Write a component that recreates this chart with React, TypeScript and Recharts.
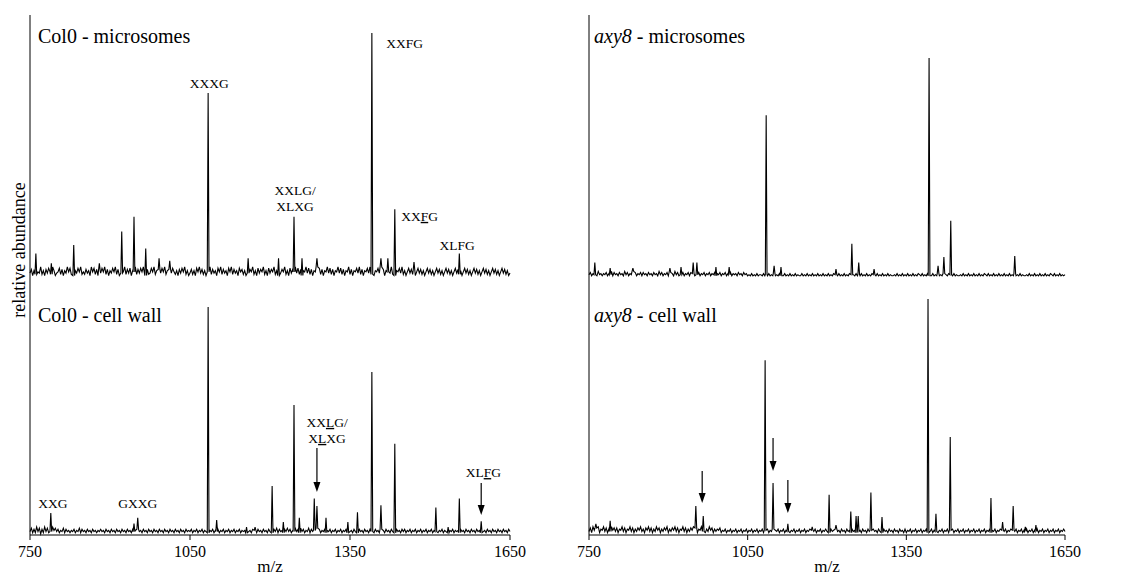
import { LineChart, Line, XAxis, YAxis, ReferenceDot, ReferenceLine } from "recharts"

const SERIF = '"Liberation Serif", "Times New Roman", serif'

// m/z grid of the baseline noise traces
const MZ_START = 750
const MZ_STEP = 2.5
const NOISE_UNIT = 0.5
const MZ_TICKS = [750, 1050, 1350, 1650]

// baseline noise, one digit every 2.5 m/z from 750 to 1650 (units of 0.5 %), 100 m/z per row
const col0MicroNoise = [
  "4726385493627485396245837264958372648593",
  "5374629583726485937264859372645937482659",
  "3748596273485936274859362748536274859362",
  "4736285947362859374628593746285937462857",
  "3628475936284759362847593628475936284759",
  "4837265948372659483726594837265948372659",
  "3726584937265849372658493726584937265849",
  "3625847362584736258473625847362584736258",
  "4736258473625847362584736258473625847362",
  "4",
].join("")
const axy8MicroNoise = [
  "3524352634243524362534253426352436352435",
  "2534253425342635243525342635243524352534",
  "2435243524352435243524352435243425342534",
  "2324232423324232423242324232423242324232",
  "2423242324232423242324232423242324232423",
  "3242324232423242324232423242322324232423",
  "2423242324324232423242324232423242324232",
  "2324232423242324232432423242324232423242",
  "3242324232232423242324232423243242324232",
  "3",
].join("")
const col0WallNoise = [
  "3625273615273625374635243625342435243625",
  "3425342534243534253425342534253425342534",
  "2534253425342534253425342534253425342534",
  "3524352435243524352435243524352435243524",
  "3425342534253425342534253625342536352436",
  "3526352436253426352435243524352435243524",
  "3425342534253425342534253425342534253425",
  "3524352435243524352435243524352435243524",
  "3425342534253425342534253425342534253425",
  "3",
].join("")
const axy8WallNoise = [
  "3627463725473625374636254736254736253647",
  "3526473625374625364725364736254736253647",
  "3625473625374625354624352435243524352435",
  "2435243524352435243524352435243524352435",
  "2435243524352435243534253425342534253425",
  "3425342534253425342534253425342534253425",
  "2435243524352435243524352435243524352435",
  "2435243524352435243524352435243524352435",
  "2435243524352435243524352435243524352435",
  "3",
].join("")

// peaks: [m/z, relative abundance %]
const col0MicroPeaks: [number, number][] = [
  [761, 10], [790, 6], [832, 13.5], [880, 6], [922, 19], [945, 25], [967, 12],
  [992, 8], [1012, 7], [1084, 75.5], [1159, 8], [1216, 8], [1245, 25], [1260, 8],
  [1288, 8], [1391, 100], [1408, 8], [1421, 8], [1434, 28], [1470, 6.5], [1555, 10],
]
const axy8MicroPeaks: [number, number][] = [
  [761, 7], [790, 4.5], [833, 4.5], [903, 4.5], [924, 5], [947, 7], [954, 7],
  [990, 5], [1015, 5], [1085, 74], [1100, 5.5], [1113, 5], [1217, 4], [1247, 15.5],
  [1260, 7], [1289, 4], [1393, 100], [1410, 5.5], [1421, 9.5], [1434, 26], [1555, 10],
]
const col0WallPeaks: [number, number][] = [
  [789, 9.6], [945, 5], [952, 7.5], [1084, 100], [1100, 6.6], [1156, 3.5], [1172, 3.5],
  [1204, 21.5], [1225, 5.7], [1245, 57], [1255, 7.5], [1283, 16], [1288, 12.7],
  [1305, 7.5], [1346, 5.7], [1364, 10], [1391, 71.5], [1408, 13], [1434, 40],
  [1511, 12], [1534, 3.5], [1555, 16], [1596, 6],
]
const axy8WallPeaks: [number, number][] = [
  [763, 4.7], [790, 6], [952, 12.3], [966, 8], [1083, 74], [1098, 22], [1126, 4.7],
  [1172, 3.4], [1204, 17], [1217, 4.2], [1245, 10], [1255, 8], [1259, 8], [1283, 18],
  [1304, 7.6], [1391, 100], [1406, 9], [1433, 41.5], [1510, 15.7], [1532, 5.5],
  [1552, 12.3], [1575, 3.4], [1595, 4.2],
]

// peak annotations ([x] = underlined letter)
type PeakLabel = { mz: number; v: number; lines: string[]; anchor?: "start" | "middle" }
type Arrow = { mz: number; from: number; to: number }

const col0MicroLabels: PeakLabel[] = [
  { mz: 1086, v: 77.5, lines: ["XXXG"] },
  { mz: 1418, v: 93.9, lines: ["XXFG"], anchor: "start" },
  { mz: 1247, v: 33.9, lines: ["XXLG/", "XLXG"] },
  { mz: 1446, v: 23.3, lines: ["XX[F]G"], anchor: "start" },
  { mz: 1551, v: 11.4, lines: ["XLFG"] },
]
const col0WallLabels: PeakLabel[] = [
  { mz: 793, v: 11.8, lines: ["XXG"] },
  { mz: 952, v: 11.8, lines: ["GXXG"] },
  { mz: 1307, v: 47.4, lines: ["XX[L]G/", "X[L]XG"] },
  { mz: 1600, v: 25.4, lines: ["XL[F]G"] },
]
const col0WallArrows: Arrow[] = [
  { mz: 1288, from: 38.2, to: 18.9 },
  { mz: 1596, from: 22.8, to: 8.8 },
]
const axy8WallArrows: Arrow[] = [
  { mz: 964, from: 27.1, to: 13.6 },
  { mz: 1098, from: 41.1, to: 27.1 },
  { mz: 1126, from: 23.3, to: 9.3 },
]

function buildSpectrum(noiseDigits: string, peaks: [number, number][]) {
  const noise = Array.from(noiseDigits, Number)
  const pts = noise
    .map((n, i) => ({ mz: MZ_START + i * MZ_STEP, v: n * NOISE_UNIT }))
    .filter((p) => !peaks.some(([mz]) => Math.abs(mz - p.mz) < 2.5))
  peaks.forEach(([mz, h]) => {
    const base = noise[Math.round((mz - MZ_START) / MZ_STEP)] * NOISE_UNIT
    pts.push({ mz: mz - 1.6, v: base }, { mz, v: h }, { mz: mz + 1.6, v: base })
  })
  return pts.sort((a, b) => a.mz - b.mz)
}

function labelShape(lines: string[], anchor: "start" | "middle") {
  return (p: any) => (
    <text x={p.cx} y={p.cy} textAnchor={anchor} fontFamily={SERIF} fontSize={13.5} fill="#000">
      {lines.map((ln, i) => (
        <tspan key={i} x={p.cx} dy={i === 0 ? 0 : 16}>
          {ln.split(/(\[.\])/).filter(Boolean).map((s, j) =>
            s.startsWith("[") ? (
              <tspan key={j} style={{ textDecoration: "underline" }}>{s.slice(1, -1)}</tspan>
            ) : (
              <tspan key={j}>{s}</tspan>
            )
          )}
        </tspan>
      ))}
    </text>
  )
}

const arrowShape = (p: any) => {
  const { x1, y1, x2, y2 } = p
  return (
    <g>
      <line x1={x1} y1={y1} x2={x2} y2={y2 - 9} stroke="#000" strokeWidth={1.2} />
      <polygon points={`${x2 - 3.5},${y2 - 10} ${x2 + 3.5},${y2 - 10} ${x2},${y2}`} fill="#000" />
    </g>
  )
}

interface PanelProps {
  noise: string
  peaks: [number, number][]
  yMax: number
  bottom: boolean
  left: number
  top: number
  marginLeft: number
  marginRight: number
  labels?: PeakLabel[]
  arrows?: Arrow[]
}

function Panel({ noise, peaks, yMax, bottom, left, top, marginLeft, marginRight, labels = [], arrows = [] }: PanelProps) {
  const data = buildSpectrum(noise, peaks)
  return (
    <div style={{ position: "absolute", left, top }}>
      <LineChart
        width={550}
        height={bottom ? 300 : 278}
        data={data}
        margin={{ top: bottom ? 0 : 15, right: marginRight, bottom: 0, left: marginLeft }}
      >
        <XAxis
          dataKey="mz"
          type="number"
          domain={[750, 1650]}
          ticks={MZ_TICKS}
          interval={0}
          hide={!bottom}
          height={43}
          axisLine={{ stroke: "#000" }}
          tickLine={{ stroke: "#000" }}
          tickSize={5}
          tickMargin={6}
          tick={{ fill: "#000", fontSize: 16, fontFamily: SERIF }}
          label={{ value: "m/z", position: "insideBottom", offset: 6, fill: "#000", fontSize: 17, fontFamily: SERIF }}
        />
        <YAxis
          type="number"
          domain={[0, yMax]}
          width={1}
          tick={false}
          tickLine={false}
          axisLine={{ stroke: "#000" }}
        />
        <Line
          type="linear"
          dataKey="v"
          stroke="#000"
          strokeWidth={1.1}
          dot={false}
          isAnimationActive={false}
        />
        {labels.map((l, i) => (
          <ReferenceDot key={"l" + i} x={l.mz} y={l.v} r={0} shape={labelShape(l.lines, l.anchor ?? "middle")} />
        ))}
        {arrows.map((a, i) => (
          <ReferenceLine key={"a" + i} segment={[{ x: a.mz, y: a.from }, { x: a.mz, y: a.to }]} shape={arrowShape} />
        ))}
      </LineChart>
    </div>
  )
}

export default function App() {
  return (
    <div style={{ position: "absolute", left: 0, top: 0, width: 1125, height: 578, background: "#fff", overflow: "hidden" }}>
      <Panel noise={col0MicroNoise} peaks={col0MicroPeaks} yMax={107.3} bottom={false} left={0} top={0}
        marginLeft={29} marginRight={40} labels={col0MicroLabels} />
      <Panel noise={col0WallNoise} peaks={col0WallPeaks} yMax={112.7} bottom left={0} top={278}
        marginLeft={29} marginRight={40} labels={col0WallLabels} arrows={col0WallArrows} />
      <Panel noise={axy8MicroNoise} peaks={axy8MicroPeaks} yMax={119.5} bottom={false} left={560} top={0}
        marginLeft={28} marginRight={45} />
      <Panel noise={axy8WallNoise} peaks={axy8WallPeaks} yMax={108.9} bottom left={560} top={278}
        marginLeft={28} marginRight={45} arrows={axy8WallArrows} />
      <svg width={1125} height={578} style={{ position: "absolute", left: 0, top: 0, pointerEvents: "none" }}
        fontFamily={SERIF} fill="#000">
        <text x={38} y={43} fontSize={20}>Col0 - microsomes</text>
        <text x={594} y={43} fontSize={20}><tspan fontStyle="italic">axy8</tspan> - microsomes</text>
        <text x={38} y={322} fontSize={20}>Col0 - cell wall</text>
        <text x={594} y={322} fontSize={20}><tspan fontStyle="italic">axy8</tspan> - cell wall</text>
        <text x={25} y={250} fontSize={18} textAnchor="middle" transform="rotate(-90 25 250)">relative abundance</text>
      </svg>
    </div>
  )
}
